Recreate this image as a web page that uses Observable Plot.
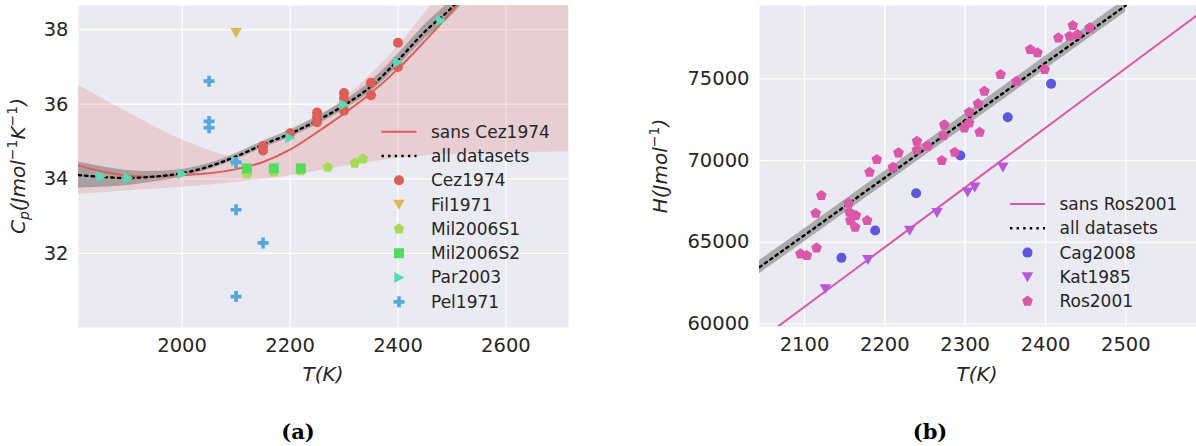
<!DOCTYPE html>
<html><head><meta charset="utf-8">
<script src="https://cdn.jsdelivr.net/npm/d3@7"></script>
<script src="https://cdn.jsdelivr.net/npm/@observablehq/plot@0.6"></script>
<style>
body{margin:0;background:#fff;}
#fig{position:relative;width:1196px;height:446px;overflow:hidden;font-family:"DejaVu Sans",sans-serif;}
#pa,#pb{position:absolute;top:0;}
#pa{left:0;width:600px} #pb{left:600px;width:596px}
.cap{position:absolute;top:418px;font-family:"DejaVu Serif",serif;font-weight:bold;font-size:21px;color:#000;transform:translateX(-50%);line-height:28px}
</style></head><body>
<div id="fig"><div id="pa"></div><div id="pb"></div>
<div class="cap" style="left:298px">(a)</div><div class="cap" style="left:930px">(b)</div></div>
<script>
// ---------- Panel (a): heat capacity ----------
const xTicksA = [2000, 2200, 2400, 2600];
const yTicksA = [32, 34, 36, 38];

const cpAllT  = [1808, 1850, 1900, 1950, 2000, 2050, 2100, 2150, 2200, 2250, 2300, 2350, 2400, 2450, 2500, 2550];
const cpAll   = [34.10, 34.05, 34.02, 34.06, 34.15, 34.33, 34.60, 34.92, 35.21, 35.56, 35.97, 36.48, 37.18, 37.95, 38.60, 39.50];
const cpAllLo = [33.75, 33.77, 33.82, 33.92, 34.05, 34.25, 34.52, 34.83, 35.11, 35.45, 35.85, 36.34, 37.02, 37.76, 38.38, 39.25];
const cpAllHi = [34.45, 34.33, 34.22, 34.20, 34.25, 34.41, 34.68, 35.01, 35.31, 35.67, 36.09, 36.62, 37.34, 38.14, 38.82, 39.75];

const cpSansT = [1808, 1850, 1900, 1950, 2000, 2050, 2100, 2150, 2200, 2250, 2300, 2350, 2400, 2450, 2500, 2550];
const cpSans  = [34.36, 34.20, 34.08, 34.06, 34.10, 34.15, 34.26, 34.45, 34.78, 35.25, 35.75, 36.30, 36.95, 37.70, 38.50, 39.40];
const cpBandT  = [1808, 1900, 2000, 2100, 2150, 2200, 2250, 2300, 2350, 2400, 2450, 2500, 2600, 2716];
const cpBandLo = [33.58, 33.68, 33.77, 33.90, 33.98, 34.08, 34.20, 34.34, 34.45, 34.55, 34.61, 34.65, 34.70, 34.72];
const cpBandHi = [36.51, 35.78, 35.05, 34.60, 34.85, 35.20, 35.62, 36.15, 36.80, 37.55, 38.45, 39.40, 41.50, 44.00];

const cez1974T  = [2150, 2150, 2200, 2250, 2250, 2250, 2300, 2300, 2300, 2350, 2350, 2400, 2400];
const cez1974Cp = [34.88, 34.76, 35.22, 35.78, 35.65, 35.52, 36.30, 36.15, 35.83, 36.58, 36.24, 37.65, 37.00];
const fil1971T  = [2100];
const fil1971Cp = [37.92];
const mil2006s1T  = [2120, 2170, 2220, 2270, 2320, 2335];
const mil2006s1Cp = [34.13, 34.18, 34.22, 34.31, 34.42, 34.53];
const mil2006s2T  = [2120, 2170, 2220];
const mil2006s2Cp = [34.28, 34.28, 34.28];
const par2003T  = [1850, 1900, 2000, 2100, 2200, 2300, 2400, 2480];
const par2003Cp = [34.07, 34.02, 34.13, 34.48, 35.10, 35.99, 37.13, 38.25];
const pel1971T  = [2050, 2050, 2050, 2100, 2100, 2150, 2100];
const pel1971Cp = [36.62, 35.54, 35.37, 34.44, 33.17, 32.28, 30.84];

// ---------- Panel (b): enthalpy ----------
const xTicksB = [2100, 2200, 2300, 2400, 2500];
const yTicksB = [60000, 65000, 70000, 75000];

const hAllT  = [2044, 2100, 2200, 2300, 2400, 2500];
const hAll   = [63470, 65430, 68950, 72460, 75980, 79490];
const hAllLo = [63070, 65030, 68550, 72060, 75580, 79090];
const hAllHi = [63870, 65830, 69350, 72860, 76380, 79890];
const hSansT = [2050, 2150, 2250, 2350, 2450, 2590];
const hSans  = [59220, 62870, 66520, 70180, 73830, 78940];

const cag2008T = [2146, 2188, 2239, 2294, 2353, 2407];
const cag2008H = [64042, 65713, 67997, 70304, 72651, 74694];
const kat1985T = [2126, 2179, 2231, 2265, 2303, 2312, 2347];
const kat1985H = [62143, 63919, 65713, 66796, 68058, 68364, 69588];
const ros2001T = [2095, 2103, 2115, 2121, 2114, 2155, 2156, 2164, 2157, 2163, 2178, 2181, 2190, 2210, 2217, 2240, 2240, 2253, 2271, 2274, 2273, 2287, 2299, 2305, 2305, 2316, 2318, 2324, 2344, 2364, 2381, 2390, 2399, 2416, 2430, 2440, 2434, 2455];
const ros2001H = [64286, 64182, 64654, 67856, 66772, 67384, 66833, 66631, 66325, 65915, 66325, 69282, 70059, 69588, 70470, 71180, 70653, 70898, 69998, 72184, 71529, 70506, 72000, 72306, 72955, 73470, 71731, 74241, 75263, 74853, 76794, 76592, 75569, 77510, 77608, 77712, 78263, 78122];

// ---------- colours ----------
const C = {cez:"#db5f57", fil:"#dbb757", mil1:"#a7db57", mil2:"#57db5f", par:"#57dbb7", pel:"#57a7db",
           cag:"#5f57db", kat:"#b757db", ros:"#db57a7"};

// ---------- marker shapes ----------
const R0 = s => Math.sqrt(s / Math.PI);
const triDown = {draw(c, s){ const R = R0(s); c.moveTo(0, R*1.05); c.lineTo(-R*1.15, -R*0.95); c.lineTo(R*1.15, -R*0.95); c.closePath(); }};
const triRight = {draw(c, s){ const R = R0(s); c.moveTo(R*1.1, 0); c.lineTo(-R*0.95, -R*1.1); c.lineTo(-R*0.95, R*1.1); c.closePath(); }};
const pentagon = {draw(c, s){ const R = R0(s)*1.12; for (let k = 0; k < 5; k++){ const a = -Math.PI/2 + k*2*Math.PI/5; const px = R*Math.cos(a), py = R*Math.sin(a); k ? c.lineTo(px, py) : c.moveTo(px, py);} c.closePath(); }};
const square = {draw(c, s){ const h = R0(s)*1.0; c.moveTo(-h,-h); c.lineTo(h,-h); c.lineTo(h,h); c.lineTo(-h,h); c.closePath(); }};
const plusF = {draw(c, s){ const a = R0(s)*1.1, w = a/3;
  c.moveTo(-w,-a); c.lineTo(w,-a); c.lineTo(w,-w); c.lineTo(a,-w); c.lineTo(a,w); c.lineTo(w,w); c.lineTo(w,a);
  c.lineTo(-w,a); c.lineTo(-w,w); c.lineTo(-a,w); c.lineTo(-a,-w); c.lineTo(-w,-w); c.closePath(); }};
const circ = {draw(c, s){ const r = R0(s); c.moveTo(r,0); c.arc(0,0,r,0,2*Math.PI); }};

const pts = (xs, ys) => xs.map((t, i) => ({t, v: ys[i]}));
const band = (xs, lo, hi) => xs.map((t, i) => ({t, lo: lo[i], hi: hi[i]}));

const baseStyle = {background: "transparent", fontFamily: "DejaVu Sans", fontSize: "19.5px", color: "#262626", overflow: "visible"};
const gridOpts = {stroke: "white", strokeOpacity: 1, strokeWidth: 1.3};
const fmt = d3.format("d");
const MR = 5;
const DASH = "2.4,4.2";

const plotA = Plot.plot({
  width: 600, height: 400, marginLeft: 78, marginRight: 32, marginTop: 5, marginBottom: 73,
  x: {domain: [1808, 2716]}, y: {domain: [30.01, 38.65]},
  style: baseStyle,
  marks: [
    Plot.frame({fill: "#eaeaf2", stroke: null}),
    Plot.gridX({ticks: xTicksA, ...gridOpts}),
    Plot.gridY({ticks: yTicksA, ...gridOpts}),
    Plot.axisX({ticks: xTicksA, tickSize: 0, tickPadding: 11, tickFormat: fmt, label: null}),
    Plot.axisY({ticks: yTicksA, tickSize: 0, tickPadding: 10, tickFormat: fmt, label: null}),
    Plot.areaY(band(cpBandT, cpBandLo, cpBandHi), {x: "t", y1: "lo", y2: "hi", fill: C.cez, fillOpacity: 0.2, curve: "catmull-rom", clip: true}),
    Plot.areaY(band(cpAllT, cpAllLo, cpAllHi), {x: "t", y1: "lo", y2: "hi", fill: "gray", fillOpacity: 0.6, curve: "catmull-rom", clip: true}),
    Plot.line(pts(cpSansT, cpSans), {x: "t", y: "v", stroke: C.cez, strokeWidth: 2, curve: "catmull-rom", clip: true}),
    Plot.line(pts(cpAllT, cpAll), {x: "t", y: "v", stroke: "black", strokeWidth: 2.4, strokeDasharray: DASH, curve: "catmull-rom", clip: true}),
    Plot.dot(pts(cez1974T, cez1974Cp), {x: "t", y: "v", symbol: circ, r: MR, fill: C.cez}),
    Plot.dot(pts(fil1971T, fil1971Cp), {x: "t", y: "v", symbol: triDown, r: MR, fill: C.fil}),
    Plot.dot(pts(mil2006s1T, mil2006s1Cp), {x: "t", y: "v", symbol: pentagon, r: MR, fill: C.mil1}),
    Plot.dot(pts(mil2006s2T, mil2006s2Cp), {x: "t", y: "v", symbol: square, r: MR, fill: C.mil2}),
    Plot.dot(pts(par2003T, par2003Cp), {x: "t", y: "v", symbol: triRight, r: MR, fill: C.par}),
    Plot.dot(pts(pel1971T, pel1971Cp), {x: "t", y: "v", symbol: plusF, r: MR, fill: C.pel})
  ]
});

const plotB = Plot.plot({
  width: 596, height: 400, marginLeft: 159, marginRight: 0, marginTop: 5, marginBottom: 74,
  x: {domain: [2044, 2588]}, y: {domain: [59840, 79490]},
  style: baseStyle,
  marks: [
    Plot.frame({fill: "#eaeaf2", stroke: null}),
    Plot.gridX({ticks: xTicksB, ...gridOpts}),
    Plot.gridY({ticks: yTicksB, ...gridOpts}),
    Plot.axisX({ticks: xTicksB, tickSize: 0, tickPadding: 11, tickFormat: fmt, label: null}),
    Plot.axisY({ticks: yTicksB, tickSize: 0, tickPadding: 10, tickFormat: fmt, label: null}),
    Plot.areaY(band(hAllT, hAllLo, hAllHi), {x: "t", y1: "lo", y2: "hi", fill: "gray", fillOpacity: 0.6, clip: true}),
    Plot.line(pts(hAllT, hAll), {x: "t", y: "v", stroke: "black", strokeWidth: 2.4, strokeDasharray: DASH, clip: true}),
    Plot.line(pts(hSansT, hSans), {x: "t", y: "v", stroke: C.ros, strokeWidth: 2, clip: true}),
    Plot.dot(pts(cag2008T, cag2008H), {x: "t", y: "v", symbol: circ, r: MR, fill: C.cag}),
    Plot.dot(pts(kat1985T, kat1985H), {x: "t", y: "v", symbol: triDown, r: MR, fill: C.kat}),
    Plot.dot(pts(ros2001T, ros2001H), {x: "t", y: "v", symbol: pentagon, r: MR, fill: C.ros})
  ]
});

document.getElementById("pa").appendChild(plotA);
document.getElementById("pb").appendChild(plotB);

// ---------- axis labels (math-style) ----------
function yLabel(svg, x, y, parts){
  const t = d3.select(svg).append("text").attr("transform", `translate(${x},${y}) rotate(-90)`)
    .attr("text-anchor", "middle").attr("font-style", "italic").attr("font-size", 20).attr("fill", "#262626")
    .attr("font-family", "DejaVu Sans");
  let cur = 0;
  parts.forEach(([txt, kind]) => {
    const target = kind === "sub" ? 4 : kind === "sup" ? -8 : 0;
    const sp = t.append("tspan").attr("dy", target - cur).text(txt);
    if (kind) sp.attr("font-size", 14).attr("font-style", kind === "sup" ? "normal" : "italic");
    cur = target;
  });
}
function xLabel(svg, x, y){
  d3.select(svg).append("text").attr("x", x).attr("y", y).attr("text-anchor", "middle")
    .attr("font-style", "italic").attr("font-size", 20).attr("fill", "#262626").attr("font-family", "DejaVu Sans").text("T(K)");
}
yLabel(plotA, 25, 166, [["C"], ["p", "sub"], ["(Jmol"], ["\u22121", "sup"], ["K"], ["\u22121", "sup"], [")"]]);
yLabel(plotB, 67, 166, [["H(Jmol"], ["\u22121", "sup"], [")"]]);
xLabel(plotA, 323, 381);
xLabel(plotB, 377, 381);

// ---------- legends ----------
function legend(svg, ox, oy, items){
  const g = d3.select(svg).append("g").attr("font-family", "DejaVu Sans").attr("font-size", 17)
    .attr("fill", "#262626").attr("text-anchor", "start");
  items.forEach((it, i) => {
    const y = oy + i * 24.3;
    if (it.line) {
      g.append("line").attr("x1", ox).attr("x2", ox + 35).attr("y1", y).attr("y2", y)
        .attr("stroke", it.color).attr("stroke-width", it.dash ? 2.4 : 2).attr("stroke-dasharray", it.dash ? DASH : null);
    } else {
      g.append("path").attr("transform", `translate(${ox + 17.5},${y})`)
        .attr("d", d3.symbol(it.symbol, MR * MR * Math.PI)()).attr("fill", it.color);
    }
    g.append("text").attr("x", ox + 49.5).attr("y", y).attr("dy", "0.35em").attr("text-anchor", "start").text(it.label);
  });
}
legend(plotA, 381.5, 131.7, [
  {line: true, color: C.cez, label: "sans Cez1974"},
  {line: true, dash: true, color: "black", label: "all datasets"},
  {symbol: circ, color: C.cez, label: "Cez1974"},
  {symbol: triDown, color: C.fil, label: "Fil1971"},
  {symbol: pentagon, color: C.mil1, label: "Mil2006S1"},
  {symbol: square, color: C.mil2, label: "Mil2006S2"},
  {symbol: triRight, color: C.par, label: "Par2003"},
  {symbol: plusF, color: C.pel, label: "Pel1971"}
]);
legend(plotB, 1010 - 600, 204, [
  {line: true, color: C.ros, label: "sans Ros2001"},
  {line: true, dash: true, color: "black", label: "all datasets"},
  {symbol: circ, color: C.cag, label: "Cag2008"},
  {symbol: triDown, color: C.kat, label: "Kat1985"},
  {symbol: pentagon, color: C.ros, label: "Ros2001"}
]);
</script>
</body></html>
